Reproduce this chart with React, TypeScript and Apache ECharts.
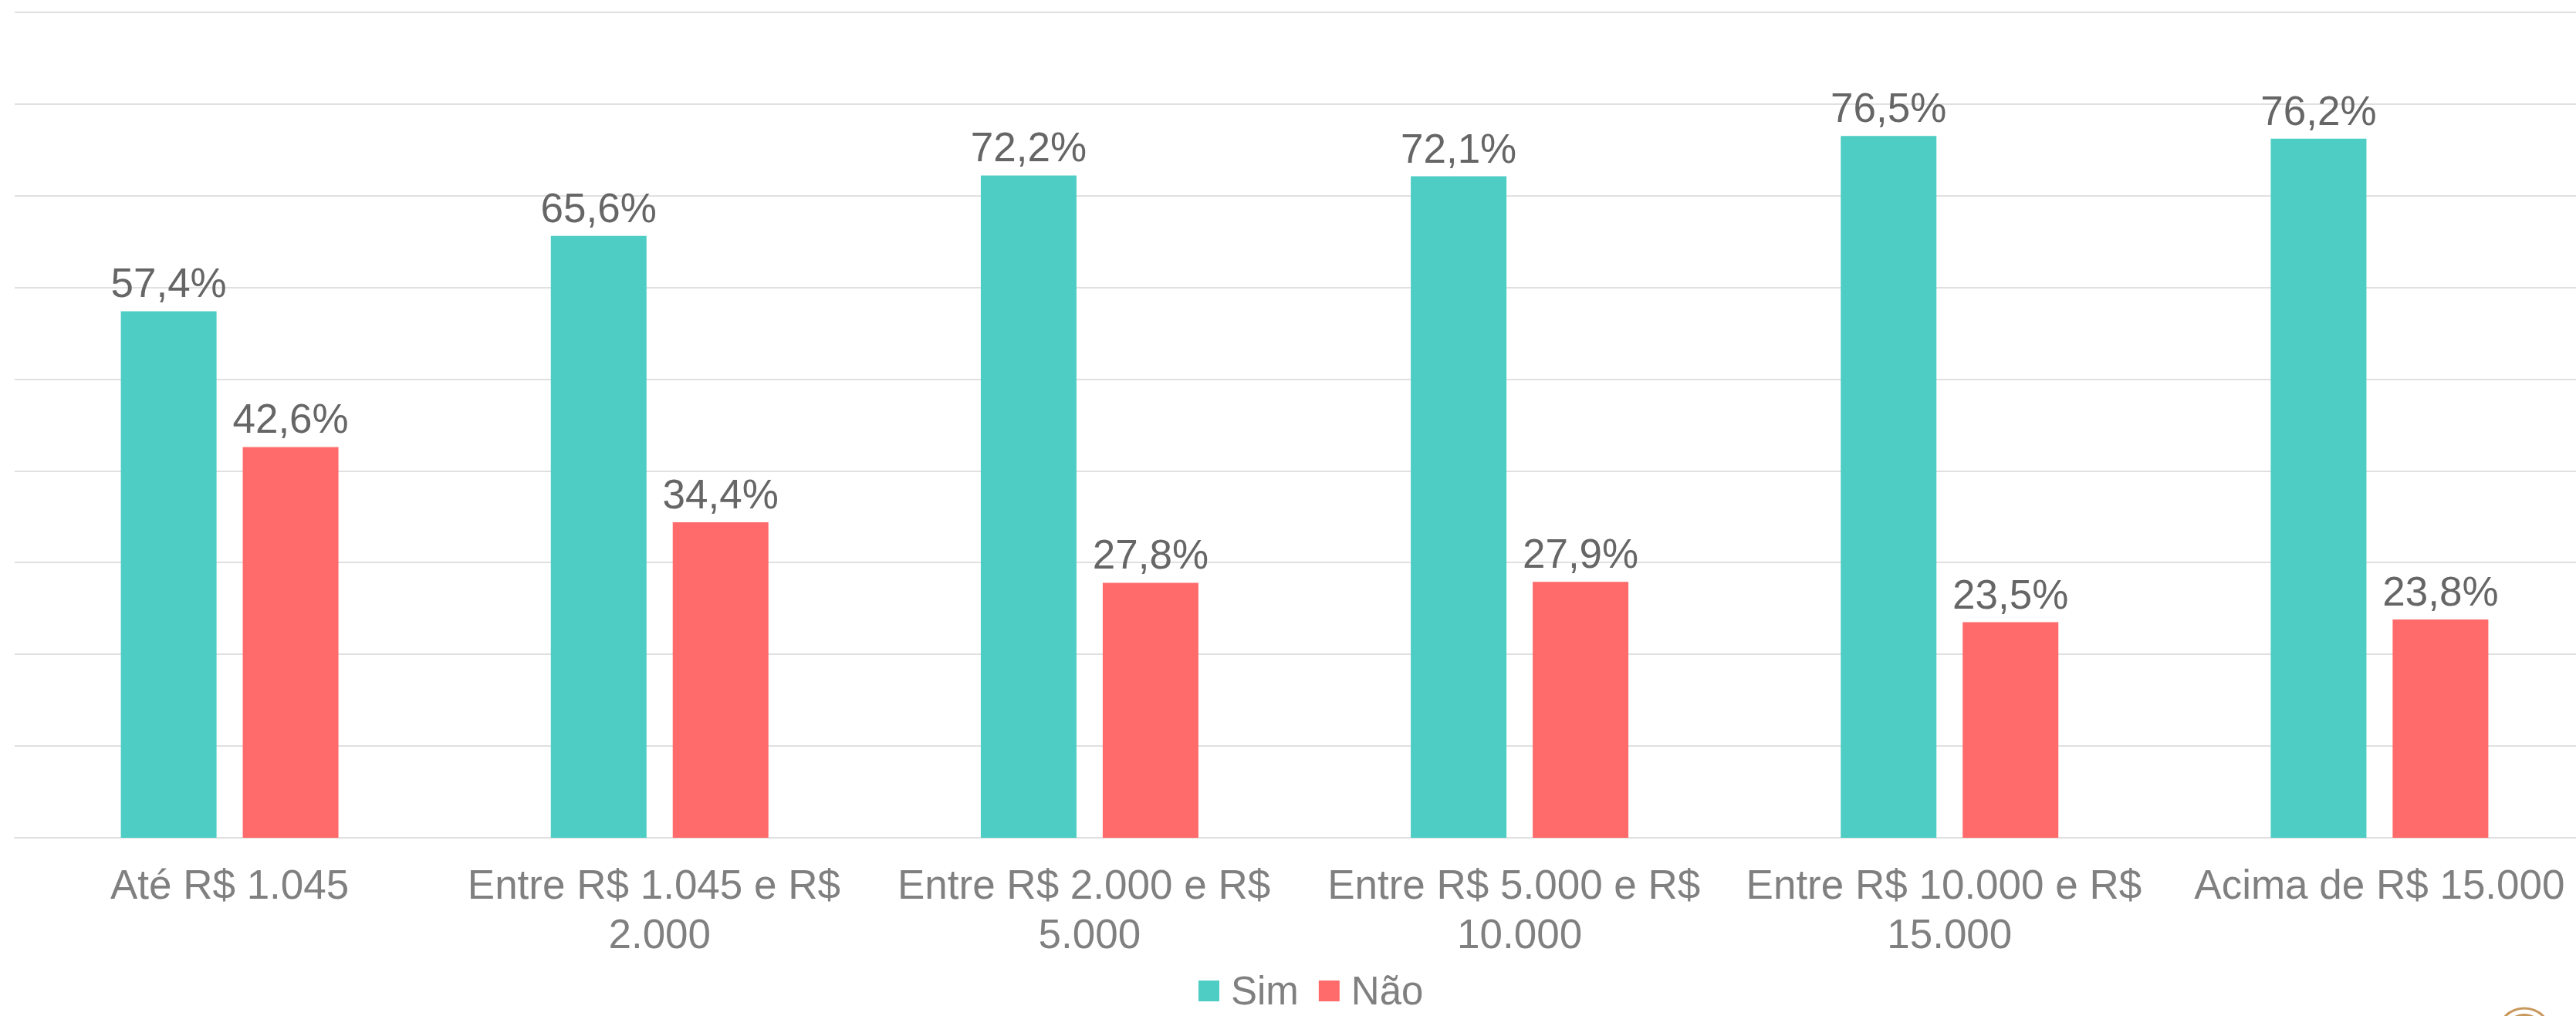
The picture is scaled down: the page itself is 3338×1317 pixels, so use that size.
import React, { useEffect, useRef } from "react";
import * as echarts from "echarts";

const categories = [
  "Até R$ 1.045",
  "Entre R$ 1.045 e R$ 2.000",
  "Entre R$ 2.000 e R$ 5.000",
  "Entre R$ 5.000 e R$ 10.000",
  "Entre R$ 10.000 e R$ 15.000",
  "Acima de R$ 15.000",
];
const simValues = [57.4, 65.6, 72.2, 72.1, 76.5, 76.2];
const naoValues = [42.6, 34.4, 27.8, 27.9, 23.5, 23.8];
const seriesNames = ["Sim", "Não"];

const FONT = "'Liberation Sans', Arial, sans-serif";
const fmt = (v: number) => v.toFixed(1).replace(".", ",") + "%";

export default function App() {
  const ref = useRef<HTMLDivElement>(null);
  useEffect(() => {
    document.body.style.margin = "0";
    if (!ref.current) return;
    const chart = echarts.init(ref.current, undefined, { renderer: "svg" });
    const labelCfg = {
      show: true,
      position: "top",
      distance: 10,
      color: "#666666",
      fontSize: 53,
      fontFamily: FONT,
      formatter: (p: any) => fmt(p.value),
    };
    chart.setOption({
      animation: false,
      backgroundColor: "#ffffff",
      textStyle: { fontFamily: FONT },
      grid: { left: 19, top: 15.7, width: 3343, height: 1070.3, containLabel: false },
      legend: {
        data: seriesNames,
        left: 1548,
        top: 1254,
        itemWidth: 27,
        itemHeight: 27,
        itemGap: 26,
        icon: "rect",
        textStyle: {
          fontSize: 51,
          lineHeight: 51,
          color: "#808080",
          fontFamily: FONT,
          padding: [0, 0, 0, 10],
        },
      },
      xAxis: {
        type: "category",
        data: categories,
        axisLine: { show: true, lineStyle: { color: "#e0e0e0", width: 2 } },
        axisTick: { show: false },
        axisLabel: {
          color: "#808080",
          fontSize: 53,
          fontFamily: FONT,
          margin: 28,
          width: 540,
          overflow: "break",
          lineHeight: 64,
          interval: 0,
        },
      },
      yAxis: {
        type: "value",
        min: 0,
        max: 90,
        interval: 10,
        axisLabel: { show: false },
        axisLine: { show: false },
        axisTick: { show: false },
        splitLine: { show: true, lineStyle: { color: "#e0e0e0", width: 2 } },
      },
      series: [
        {
          name: seriesNames[0],
          type: "bar",
          data: simValues,
          barWidth: 124,
          barGap: "27.4%",
          itemStyle: { color: "#4ECDC4" },
          label: labelCfg,
        },
        {
          name: seriesNames[1],
          type: "bar",
          data: naoValues,
          barWidth: 124,
          barGap: "27.4%",
          itemStyle: { color: "#FF6B6B" },
          label: labelCfg,
        },
      ],
      graphic: [
        {
          type: "arc",
          shape: { cx: 3271, cy: 1342, r: 35, startAngle: Math.PI, endAngle: 2 * Math.PI },
          style: { stroke: "#C8975A", lineWidth: 3, fill: "none" },
        },
        {
          type: "circle",
          shape: { cx: 3271, cy: 1342, r: 28 },
          style: { fill: "#C8975A" },
        },
      ],
    });
    return () => chart.dispose();
  }, []);
  return (
    <div
      style={{
        position: "fixed",
        left: 0,
        top: 0,
        width: 3338,
        height: 1317,
        overflow: "hidden",
        background: "#fff",
      }}
    >
      <div ref={ref} style={{ width: 3390, height: 1317 }} />
    </div>
  );
}
